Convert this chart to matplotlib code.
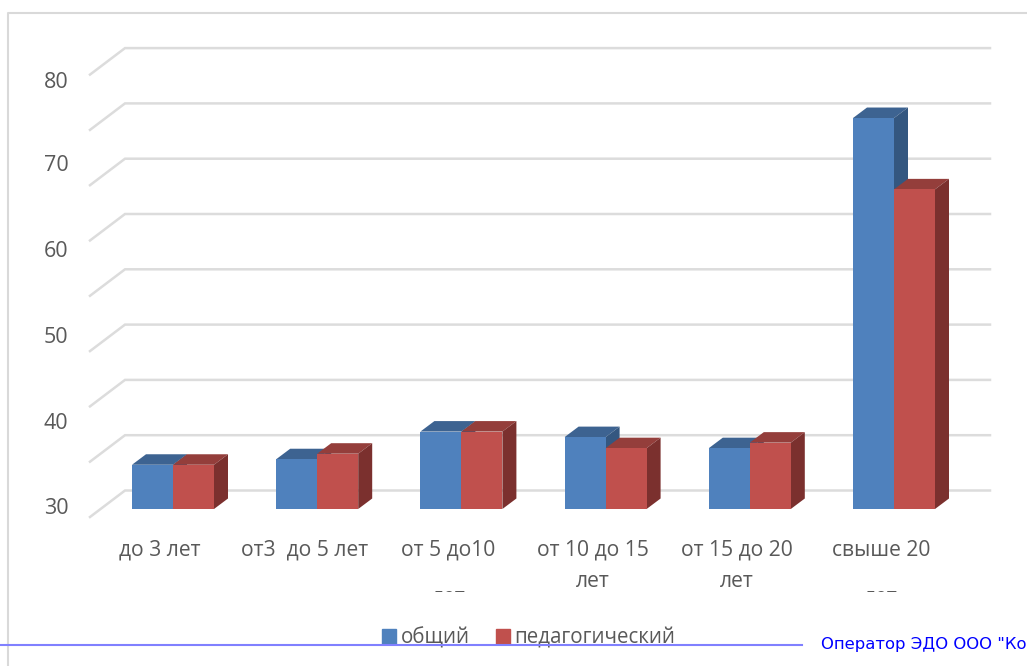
import matplotlib
matplotlib.use("Agg")
import matplotlib.pyplot as plt
from matplotlib.patches import Rectangle
from matplotlib.transforms import Bbox

plt.rcParams['font.family'] = ['Open Sans', 'DejaVu Sans']

categories = ["до 3 лет", "от3  до 5 лет", "от 5 до10\nлет", "от 10 до 15\nлет", "от 15 до 20\nлет", "свыше 20\nлет"]
obshchiy = [8, 9, 14, 13, 11, 70.7]
pedagog = [8, 10, 14, 11, 12, 57.8]
grid_vals = [0, 10, 20, 30, 40, 50, 60, 70, 80]
tick_labels = ["30", "40", "50", "60", "70", "80"]
tick_pos = [0.05, 15.55, 31.05, 46.55, 62.05, 77.05]   # подписи не совпадают с сеткой

BLUE, BLUE_TOP, BLUE_SIDE = "#4f81bd", "#3d6391", "#345780"
RED, RED_TOP, RED_SIDE = "#c0504d", "#943e3b", "#7b302e"
GRAY = "#595959"

W, H = 1027, 666
step = 144.2     # px на категорию
unit = 5.53      # px на единицу значения
x0 = 173.0       # центр первой группы, px
y0 = 509.0       # основание столбцов, px


def dx(px):
    return px / step


def dy(px):
    return px / unit


fig = plt.figure(figsize=(W / 100, H / 100), dpi=100)
ax = fig.add_axes([0, 0, 1, 1])
ax.set_xlim(-x0 / step, (W - x0) / step)
ax.set_ylim((y0 - H) / unit, y0 / unit)
ax.axis("off")

# сетка: задняя стенка и боковая грань
for g in grid_vals:
    ax.plot([dx(-83), dx(-48), dx(817)], [g - dy(8), g + dy(18.5), g + dy(18.5)],
            color="#dcdcdc", lw=1.8, zorder=1, solid_joinstyle="miter")

bw = dx(41)
ddx, ddy = dx(14), dy(10.5)


def bar3d(x, v, front, top, side, z):
    ax.bar(x, v, width=bw, color=front, zorder=z + 0.2, label=None)
    l, r = x - bw / 2, x + bw / 2
    ax.fill([l, r, r + ddx, l + ddx], [v, v, v + ddy, v + ddy], color=top, lw=0, zorder=z)
    ax.fill([r, r + ddx, r + ddx, r], [0, ddy, v + ddy, v], color=side, lw=0, zorder=z)


for i in range(len(categories)):
    bar3d(i - bw / 2, obshchiy[i], BLUE, BLUE_TOP, BLUE_SIDE, 2 + i)
    bar3d(i + bw / 2, pedagog[i], RED, RED_TOP, RED_SIDE, 2.5 + i)

# подписи оси значений
for lab, p in zip(tick_labels, tick_pos):
    ax.text(dx(-117), p, lab, fontsize=15.5, color=GRAY, ha="center", va="center")

# подписи категорий: у третьей и шестой вторая строка ниже и обрезана на 592 px
for i, lab in enumerate(categories):
    ls = 2.65 if i in (2, 5) else 1.62
    t = ax.text(i - dx(13), dy(509 - 540), lab, fontsize=15.2, color=GRAY, ha="center", va="top",
                linespacing=ls)
    t.set_clip_box(Bbox([[0, H - 592], [W, H]]))
    t.set_clip_on(True)

# легенда
h1 = Rectangle((0, 0), 1, 1, color=BLUE)
h2 = Rectangle((0, 0), 1, 1, color=RED)
ax.legend([h1, h2], ["общий", "педагогический"], ncol=2, frameon=False, fontsize=14.8,
          labelcolor=GRAY, handlelength=0.68, handleheight=0.68, handletextpad=0.24, columnspacing=1.27,
          loc="center", bbox_to_anchor=(528.5 / W, 1 - 638 / H))

# рамка диаграммы и линия штампа
fig.add_artist(plt.Line2D([7.5 / W, 7.5 / W, 1], [0, 1 - 13 / H, 1 - 13 / H], color="#d9d9d9", lw=1.5))
fig.add_artist(plt.Line2D([0, 802 / W], [1 - 645 / H, 1 - 645 / H], color="#8080ff", lw=1.5, zorder=20))
fig.text(821 / W, 1 - 644 / H, 'Оператор ЭДО ООО "Ко', fontsize=11.85, color="#0000ff", va="center",
         family=['DejaVu Sans'])

fig.savefig("out.png", dpi=100)
